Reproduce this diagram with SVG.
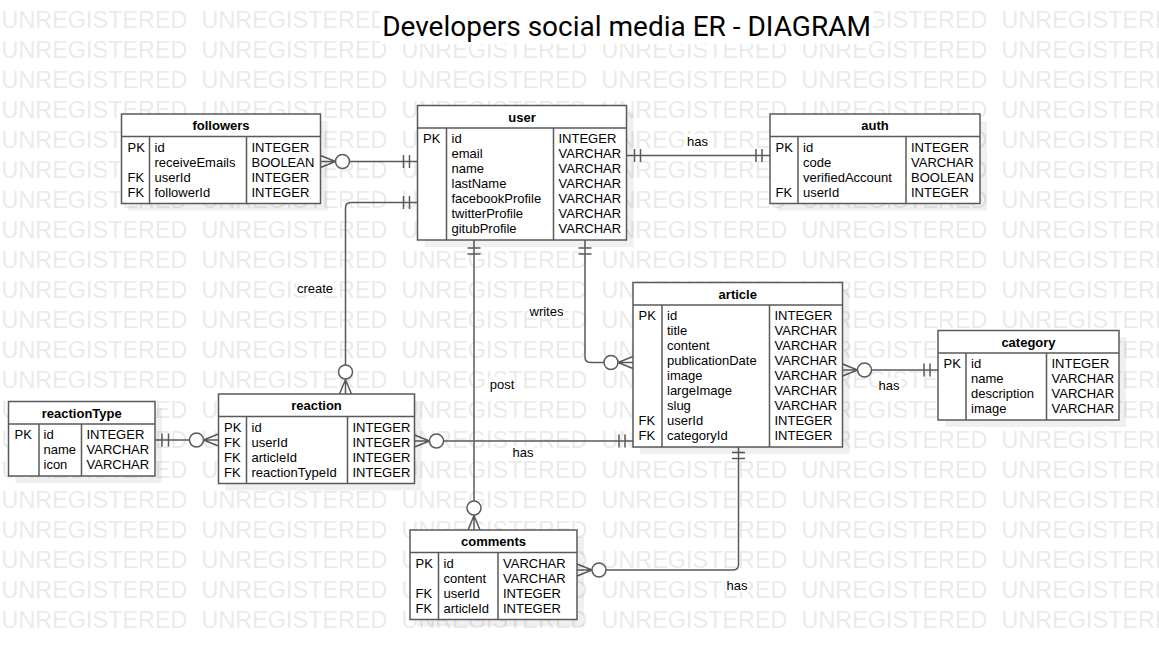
<svg xmlns="http://www.w3.org/2000/svg" width="1159" height="660" viewBox="0 0 1159 660">
<style>
.t{font-family:"Liberation Sans",Arial,sans-serif;font-size:13px;fill:#000}
.h{font-weight:bold;text-anchor:middle}
.m{text-anchor:middle}
.box{fill:#fff;stroke:#595959;stroke-width:1.5}
.ln{stroke:#595959;stroke-width:1.5;fill:none}
.sh{fill:#000;opacity:0.06}
.ci{fill:#fff;stroke:#595959;stroke-width:1.5}
.lb{fill:#fff}
.wm{font-family:"Liberation Sans",Arial,sans-serif;font-size:23.3px;fill:#eaeaea}
</style>
<defs>
<pattern id="wmp" x="0" y="0" width="200" height="30" patternUnits="userSpaceOnUse">
<text class="wm" x="1.5" y="28" textLength="186" lengthAdjust="spacingAndGlyphs">UNREGISTERED</text>
</pattern>
</defs>
<rect width="1159" height="660" fill="#fff"/>
<rect width="1159" height="632" fill="url(#wmp)"/>
<g id="title">
<rect x="380" y="8" width="493" height="36" fill="#fff"/>
<text x="626.5" y="36" text-anchor="middle" style="font-family:Roboto,'Liberation Sans',sans-serif;font-size:28px;fill:#000">Developers social media ER - DIAGRAM</text>
</g>
<g id="connectors">
<!-- followers - user -->
<path class="ln" d="M320.5,161.5H417.5M335.5,161.5L320.5,155.5M335.5,161.5L320.5,167.5M403.5,155V168M409.5,155V168"/>
<circle class="ci" cx="342.5" cy="161.5" r="7"/>
<!-- user - auth -->
<path class="ln" d="M626.5,155.5H770M634.5,149V162M640.5,149V162M756,149V162M762,149V162"/>
<rect class="lb" x="686" y="134" width="23" height="14"/>
<text class="t m" x="697.5" y="145.5">has</text>
<!-- user - reaction (create) -->
<path class="ln" d="M417.5,202.5H351Q345.5,202.5 345.5,208V394M403.5,196V209M409.5,196V209M345.5,379.5L339.5,394M345.5,379.5L351.5,394"/>
<circle class="ci" cx="345.5" cy="372" r="7"/>
<rect class="lb" x="296" y="281" width="38" height="14"/>
<text class="t m" x="315" y="292.5">create</text>
<!-- user - article (writes) -->
<path class="ln" d="M585,240V357Q585,362.5 590.5,362.5H633M578.5,248H591.5M578.5,254H591.5M618,362.5L633,356.5M618,362.5L633,368.5"/>
<circle class="ci" cx="611" cy="362.5" r="7"/>
<rect class="lb" x="528" y="304" width="37" height="14"/>
<text class="t m" x="546.5" y="315.5">writes</text>
<!-- user - comments (post) -->
<path class="ln" d="M474,240V530M467.5,248H480.5M467.5,254H480.5M474,515.5L468,530M474,515.5L480,530"/>
<circle class="ci" cx="474" cy="508" r="7"/>
<rect class="lb" x="489" y="377" width="26" height="14"/>
<text class="t m" x="502" y="388.5">post</text>
<!-- reaction - article -->
<path class="ln" d="M414.5,441H633M429.5,441L414.5,435M429.5,441L414.5,447M619,434.5V447.5M625,434.5V447.5"/>
<circle class="ci" cx="436.5" cy="441" r="7"/>
<rect class="lb" x="511" y="446" width="24" height="14"/>
<text class="t m" x="523" y="457">has</text>
<!-- reactionType - reaction -->
<path class="ln" d="M155,440H218.5M162,433.5V446.5M168.5,433.5V446.5M203.5,440L218.5,434M203.5,440L218.5,446"/>
<circle class="ci" cx="196.5" cy="440" r="7"/>
<!-- article - category -->
<path class="ln" d="M842.5,370H938M857.5,370L842.5,364M857.5,370L842.5,376M924,363.5V376.5M930,363.5V376.5"/>
<circle class="ci" cx="864.5" cy="370" r="7"/>
<rect class="lb" x="877" y="378" width="24" height="14"/>
<text class="t m" x="889" y="389.5">has</text>
<!-- article - comments -->
<path class="ln" d="M738.5,447V564.5Q738.5,570 733,570H577M732,452.5H745M732,458.5H745M592,570L577,564M592,570L577,576"/>
<circle class="ci" cx="599" cy="570" r="7"/>
<rect class="lb" x="725" y="578" width="24" height="14"/>
<text class="t m" x="737" y="589.5">has</text>
</g>
<g id="followers">
<rect class="sh" x="128.5" y="121" width="199" height="89.5"/>
<rect class="box" x="121.5" y="114" width="199" height="89.5"/>
<path class="ln" d="M121.5,136.5H320.5M149.5,136.5V203.5M246.5,136.5V203.5"/>
<text class="t h" x="221" y="130">followers</text>
<text class="t" x="127.5" y="151.5">PK</text><text class="t" x="154.5" y="151.5">id</text><text class="t" x="251.5" y="151.5">INTEGER</text>
<text class="t" x="154.5" y="166.5">receiveEmails</text><text class="t" x="251.5" y="166.5">BOOLEAN</text>
<text class="t" x="127.5" y="181.5">FK</text><text class="t" x="154.5" y="181.5">userId</text><text class="t" x="251.5" y="181.5">INTEGER</text>
<text class="t" x="127.5" y="196.5">FK</text><text class="t" x="154.5" y="196.5">followerId</text><text class="t" x="251.5" y="196.5">INTEGER</text>
</g>
<g id="user">
<rect class="sh" x="424.5" y="112.5" width="209" height="134.5"/>
<rect class="box" x="417.5" y="105.5" width="209" height="134.5"/>
<path class="ln" d="M417.5,128H626.5M446.5,128V240M553.5,128V240"/>
<text class="t h" x="522" y="121.5">user</text>
<text class="t" x="423" y="143">PK</text><text class="t" x="451.5" y="143">id</text><text class="t" x="558.5" y="143">INTEGER</text>
<text class="t" x="451.5" y="158">email</text><text class="t" x="558.5" y="158">VARCHAR</text>
<text class="t" x="451.5" y="173">name</text><text class="t" x="558.5" y="173">VARCHAR</text>
<text class="t" x="451.5" y="188">lastName</text><text class="t" x="558.5" y="188">VARCHAR</text>
<text class="t" x="451.5" y="203">facebookProfile</text><text class="t" x="558.5" y="203">VARCHAR</text>
<text class="t" x="451.5" y="218">twitterProfile</text><text class="t" x="558.5" y="218">VARCHAR</text>
<text class="t" x="451.5" y="233">gitubProfile</text><text class="t" x="558.5" y="233">VARCHAR</text>
</g>
<g id="auth">
<rect class="sh" x="777" y="121" width="210" height="89.5"/>
<rect class="box" x="770" y="114" width="210" height="89.5"/>
<path class="ln" d="M770,136.5H980M798,136.5V203.5M906,136.5V203.5"/>
<text class="t h" x="875" y="130">auth</text>
<text class="t" x="775.5" y="151.5">PK</text><text class="t" x="803" y="151.5">id</text><text class="t" x="911" y="151.5">INTEGER</text>
<text class="t" x="803" y="166.5">code</text><text class="t" x="911" y="166.5">VARCHAR</text>
<text class="t" x="803" y="181.5">verifiedAccount</text><text class="t" x="911" y="181.5">BOOLEAN</text>
<text class="t" x="775.5" y="196.5">FK</text><text class="t" x="803" y="196.5">userId</text><text class="t" x="911" y="196.5">INTEGER</text>
</g>
<g id="article">
<rect class="sh" x="640" y="289.5" width="209.5" height="164.5"/>
<rect class="box" x="633" y="282.5" width="209.5" height="164.5"/>
<path class="ln" d="M633,305H842.5M662,305V447M769.5,305V447"/>
<text class="t h" x="737.75" y="298.5">article</text>
<text class="t" x="638.5" y="320">PK</text><text class="t" x="667" y="320">id</text><text class="t" x="774.5" y="320">INTEGER</text>
<text class="t" x="667" y="335">title</text><text class="t" x="774.5" y="335">VARCHAR</text>
<text class="t" x="667" y="350">content</text><text class="t" x="774.5" y="350">VARCHAR</text>
<text class="t" x="667" y="365">publicationDate</text><text class="t" x="774.5" y="365">VARCHAR</text>
<text class="t" x="667" y="380">image</text><text class="t" x="774.5" y="380">VARCHAR</text>
<text class="t" x="667" y="395">largeImage</text><text class="t" x="774.5" y="395">VARCHAR</text>
<text class="t" x="667" y="410">slug</text><text class="t" x="774.5" y="410">VARCHAR</text>
<text class="t" x="638.5" y="425">FK</text><text class="t" x="667" y="425">userId</text><text class="t" x="774.5" y="425">INTEGER</text>
<text class="t" x="638.5" y="440">FK</text><text class="t" x="667" y="440">categoryId</text><text class="t" x="774.5" y="440">INTEGER</text>
</g>
<g id="category">
<rect class="sh" x="945" y="337.5" width="181" height="89.5"/>
<rect class="box" x="938" y="330.5" width="181" height="89.5"/>
<path class="ln" d="M938,353H1119M966,353V420M1046.5,353V420"/>
<text class="t h" x="1028.5" y="346.5">category</text>
<text class="t" x="943.5" y="368">PK</text><text class="t" x="971" y="368">id</text><text class="t" x="1051.5" y="368">INTEGER</text>
<text class="t" x="971" y="383">name</text><text class="t" x="1051.5" y="383">VARCHAR</text>
<text class="t" x="971" y="398">description</text><text class="t" x="1051.5" y="398">VARCHAR</text>
<text class="t" x="971" y="413">image</text><text class="t" x="1051.5" y="413">VARCHAR</text>
</g>
<g id="reactionType">
<rect class="sh" x="15.5" y="408.5" width="146.5" height="74.5"/>
<rect class="box" x="8.5" y="401.5" width="146.5" height="74.5"/>
<path class="ln" d="M8.5,424H155M39,424V476M81.5,424V476"/>
<text class="t h" x="81.75" y="417.5">reactionType</text>
<text class="t" x="14.5" y="439">PK</text><text class="t" x="43.5" y="439">id</text><text class="t" x="86.5" y="439">INTEGER</text>
<text class="t" x="43.5" y="454">name</text><text class="t" x="86.5" y="454">VARCHAR</text>
<text class="t" x="43.5" y="469">icon</text><text class="t" x="86.5" y="469">VARCHAR</text>
</g>
<g id="reaction">
<rect class="sh" x="225.5" y="401" width="196" height="89.5"/>
<rect class="box" x="218.5" y="394" width="196" height="89.5"/>
<path class="ln" d="M218.5,416.5H414.5M246.5,416.5V483.5M347.5,416.5V483.5"/>
<text class="t h" x="316.5" y="410">reaction</text>
<text class="t" x="224" y="431.5">PK</text><text class="t" x="251.5" y="431.5">id</text><text class="t" x="352.5" y="431.5">INTEGER</text>
<text class="t" x="224" y="446.5">FK</text><text class="t" x="251.5" y="446.5">userId</text><text class="t" x="352.5" y="446.5">INTEGER</text>
<text class="t" x="224" y="461.5">FK</text><text class="t" x="251.5" y="461.5">articleId</text><text class="t" x="352.5" y="461.5">INTEGER</text>
<text class="t" x="224" y="476.5">FK</text><text class="t" x="251.5" y="476.5">reactionTypeId</text><text class="t" x="352.5" y="476.5">INTEGER</text>
</g>
<g id="comments">
<rect class="sh" x="417" y="537" width="167" height="89.5"/>
<rect class="box" x="410" y="530" width="167" height="89.5"/>
<path class="ln" d="M410,552.5H577M438.5,552.5V619.5M498,552.5V619.5"/>
<text class="t h" x="493.5" y="546">comments</text>
<text class="t" x="415.5" y="567.5">PK</text><text class="t" x="443.5" y="567.5">id</text><text class="t" x="503" y="567.5">VARCHAR</text>
<text class="t" x="443.5" y="582.5">content</text><text class="t" x="503" y="582.5">VARCHAR</text>
<text class="t" x="415.5" y="597.5">FK</text><text class="t" x="443.5" y="597.5">userId</text><text class="t" x="503" y="597.5">INTEGER</text>
<text class="t" x="415.5" y="612.5">FK</text><text class="t" x="443.5" y="612.5">articleId</text><text class="t" x="503" y="612.5">INTEGER</text>
</g>
</svg>
